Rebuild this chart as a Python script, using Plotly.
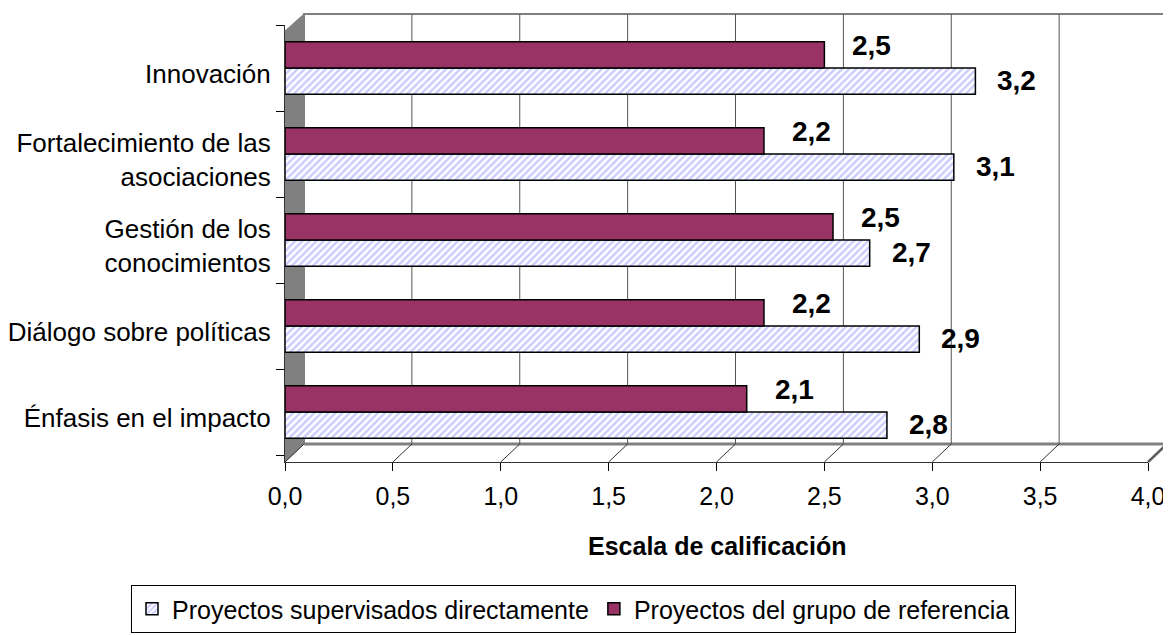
import plotly.graph_objects as go

categories = ["Énfasis en el impacto", "Diálogo sobre políticas",
              "Gestión de los<br>conocimientos", "Fortalecimiento de las<br>asociaciones",
              "Innovación"]
supervisados = [2.79, 2.94, 2.71, 3.10, 3.20]
referencia = [2.14, 2.22, 2.54, 2.22, 2.50]
x_ticks = [0, 0.5, 1.0, 1.5, 2.0, 2.5, 3.0, 3.5, 4.0]
x_ticktext = ["0,0", "0,5", "1,0", "1,5", "2,0", "2,5", "3,0", "3,5", "4,0"]

FONT = "Arial, Liberation Sans, sans-serif"

# page geometry (the html body adds an 8px margin)
BODY = 8
PX_L, PX_R, PX_T, PX_B = 285, 1148, 25, 462   # plot area in page pixels
W, H = 1171 - BODY, 635 - BODY
X_MAX = 4.0
DX, DY = 19, 18                                # 3-D depth offset

def px_x(p):
    return (p - PX_L) / (PX_R - PX_L)

def px_y(p):
    return (PX_B - p) / (PX_B - PX_T)

def val_px(v):
    return PX_L + v / X_MAX * (PX_R - PX_L)

fig = go.Figure()
fig.add_trace(go.Bar(
    y=categories, x=supervisados, orientation="h",
    name="Proyectos supervisados directamente",
    marker=dict(color="white", line=dict(color="black", width=1.5),
                pattern=dict(shape="/", fgcolor="#9999FF", bgcolor="white",
                             size=5, solidity=0.5)),
))
fig.add_trace(go.Bar(
    y=categories, x=referencia, orientation="h",
    name="Proyectos del grupo de referencia",
    marker=dict(color="#993366", line=dict(color="black", width=1.5)),
))

label_font = dict(family=FONT, size=28, color="black", weight="bold")
annotations = []
for c, v in zip(categories, supervisados):
    annotations.append(dict(x=v, y=c, xref="x", yref="y",
                            text=("%.1f" % v).replace(".", ","),
                            showarrow=False, xanchor="left", yanchor="middle",
                            xshift=20, yshift=-12, font=label_font))
for c, v in zip(categories, referencia):
    annotations.append(dict(x=v, y=c, xref="x", yref="y",
                            text=("%.1f" % v).replace(".", ","),
                            showarrow=False, xanchor="left", yanchor="middle",
                            xshift=26, yshift=23, font=label_font))
annotations.append(dict(x=0.5, y=px_y(546), xref="paper", yref="paper",
                        text="<b>Escala de calificación</b>", showarrow=False,
                        xanchor="center", yanchor="middle",
                        font=dict(family=FONT, size=25, color="black")))

# 3-D frame decoration: back wall, left wall, floor, gridlines on the back wall
shapes = []
GRAY = "#808080"
shapes.append(dict(type="rect", xref="paper", yref="paper",
                   x0=px_x(PX_L + DX), x1=px_x(PX_R + DX),
                   y0=px_y(PX_B - DY), y1=px_y(PX_T - 11),
                   line=dict(color=GRAY, width=2), fillcolor="white", layer="below"))
lw = "M %f,%f L %f,%f L %f,%f L %f,%f Z" % (
    px_x(PX_L), px_y(PX_T + 6), px_x(PX_L + DX), px_y(PX_T - 11),
    px_x(PX_L + DX), px_y(PX_B - DY), px_x(PX_L), px_y(PX_B))
shapes.append(dict(type="path", xref="paper", yref="paper", path=lw,
                   fillcolor=GRAY, line=dict(color=GRAY, width=1), layer="below"))
shapes.append(dict(type="line", xref="paper", yref="paper",
                   x0=px_x(PX_L + DX), x1=px_x(PX_R + DX),
                   y0=px_y(PX_B - DY), y1=px_y(PX_B - DY),
                   line=dict(color=GRAY, width=3), layer="below"))
shapes.append(dict(type="line", xref="paper", yref="paper",
                   x0=px_x(PX_R), x1=px_x(PX_R + DX),
                   y0=px_y(PX_B), y1=px_y(PX_B - DY),
                   line=dict(color=GRAY, width=3), layer="below"))
for v in x_ticks:
    xp = val_px(v)
    shapes.append(dict(type="line", xref="paper", yref="paper",
                       x0=px_x(xp), x1=px_x(xp + DX), y0=px_y(PX_B), y1=px_y(PX_B - DY),
                       line=dict(color="#333333", width=1), layer="below"))
    if 0 < v < X_MAX:
        shapes.append(dict(type="line", xref="paper", yref="paper",
                           x0=px_x(xp + DX), x1=px_x(xp + DX),
                           y0=px_y(PX_B - DY), y1=px_y(PX_T - 11),
                           line=dict(color="#555555", width=1), layer="below"))

fig.update_layout(
    width=W, height=H,
    margin=dict(l=PX_L - BODY, r=W - (PX_R - BODY), t=PX_T - BODY, b=H - (PX_B - BODY),
                autoexpand=False),
    paper_bgcolor="white", plot_bgcolor="rgba(0,0,0,0)",
    barmode="group", bargap=0.39, bargroupgap=0,
    font=dict(family=FONT, size=25, color="black"),
    xaxis=dict(range=[0, X_MAX], tickvals=x_ticks, ticktext=x_ticktext,
               showgrid=False, showline=True, linecolor="#333333", linewidth=1,
               ticks="outside", ticklen=8, tickcolor="black",
               ticklabelstandoff=4, zeroline=False, automargin=False,
               tickfont=dict(family=FONT, size=25)),
    yaxis=dict(range=[-0.58, 4.5], showgrid=False, showline=True,
               linecolor="#333333", linewidth=1,
               ticks="outside", ticklen=8, tickcolor="black", tickson="boundaries",
               ticklabelstandoff=8, ticklabelshift=6, automargin=False,
               tickfont=dict(family=FONT, size=26)),
    legend=dict(orientation="h", x=px_x(131), y=px_y(609),
                xanchor="left", yanchor="middle",
                bordercolor="black", borderwidth=1, font=dict(family=FONT, size=25),
                traceorder="normal", itemwidth=30, tracegroupgap=0),
    annotations=annotations,
    shapes=shapes,
)

fig.write_html("out.html")
